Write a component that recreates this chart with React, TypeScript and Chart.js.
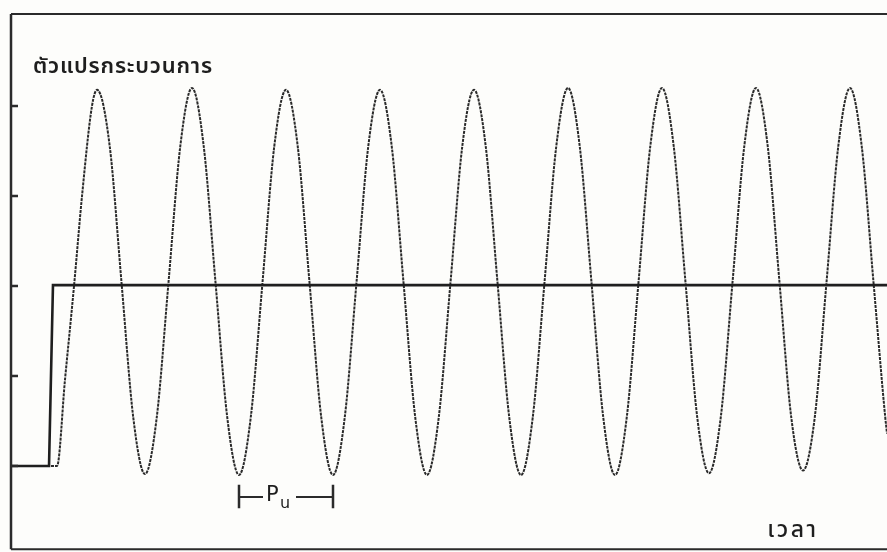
import React, { useEffect, useRef } from "react";
import { Chart, registerables } from "chart.js";

Chart.register(...registerables);

// Setpoint (step) — time vs. level
const stepTimes = [0.745, 4.79, 5.21, 93.94];
const stepValues = [0, 0, 2.01, 2.01];

// Process variable (sustained oscillation at ultimate gain)
const waveTimes = [
  0.745, 5.64, 6.49, 7.45, 8.3, 9.36, 9.9,
  11.25, 12.5, 13.75, 15, 16.25, 17.5, 18.75, 20,
  21.25, 22.5, 23.75, 25, 26.25, 27.5, 28.75, 30,
  31.25, 32.5, 33.75, 35, 36.25, 37.5, 38.75, 40,
  41.25, 42.5, 43.75, 45, 46.25, 47.5, 48.75, 50,
  51.25, 52.5, 53.75, 55, 56.25, 57.5, 58.75, 60,
  61.25, 62.5, 63.75, 65, 66.25, 67.5, 68.75, 70,
  71.25, 72.5, 73.75, 75, 76.25, 77.5, 78.75, 80,
  81.25, 82.5, 83.75, 85, 86.25, 87.5, 88.75, 90,
  91.25, 92.5, 93.75, 93.94,
];
const waveValues = [
  0, 0, 0.96, 2.0, 3.0, 4.0, 4.18,
  3.55, 2.04, 0.54, -0.09, 0.54, 2.04, 3.55, 4.2,
  3.55, 2.04, 0.54, -0.1, 0.54, 2.04, 3.55, 4.18,
  3.55, 2.04, 0.54, -0.1, 0.54, 2.04, 3.55, 4.18,
  3.55, 2.04, 0.54, -0.1, 0.54, 2.04, 3.55, 4.18,
  3.55, 2.04, 0.54, -0.1, 0.54, 2.04, 3.55, 4.2,
  3.55, 2.04, 0.54, -0.1, 0.54, 2.04, 3.55, 4.2,
  3.55, 2.04, 0.54, -0.08, 0.54, 2.04, 3.55, 4.2,
  3.55, 2.04, 0.54, -0.05, 0.54, 2.04, 3.55, 4.2,
  3.55, 2.04, 0.54, 0.36,
];

// Axis tick levels on the left edge
const yTickLevels = [0, 1, 2, 3, 4];

const yAxisTitle = "ตัวแปรกระบวนการ";
const xAxisTitle = "เวลา";
const periodLabel = "P";
const periodSub = "u";
// Two successive troughs bracketing the ultimate period
const periodStart = 25;
const periodEnd = 35;

const THAI_FONT = '"Noto Sans Thai", "Noto Sans Thai Looped", Loma, Garuda, "Noto Sans", "DejaVu Sans", sans-serif';

const annotations = {
  id: "annotations",
  afterDatasetsDraw(chart: any) {
    const ctx = chart.ctx;
    const xs = chart.scales.x;
    const ys = chart.scales.y;
    const px = (v: number) => xs.getPixelForValue(v);
    const py = (v: number) => ys.getPixelForValue(v);
    ctx.save();
    ctx.strokeStyle = "#2b2b2b";
    ctx.lineCap = "butt";

    // frame: left axis, top and bottom border
    const left = px(0.745);
    const top = py(5.022);
    const bottom = py(-0.925);
    ctx.lineWidth = 2.5;
    ctx.beginPath();
    ctx.moveTo(left, top);
    ctx.lineTo(left, bottom);
    ctx.stroke();
    ctx.lineWidth = 2;
    ctx.beginPath();
    ctx.moveTo(left, top);
    ctx.lineTo(chart.width, top);
    ctx.moveTo(left, bottom);
    ctx.lineTo(chart.width, bottom);
    ctx.stroke();

    // inward tick marks
    ctx.lineWidth = 2.5;
    yTickLevels.forEach((lv) => {
      const y = py(lv);
      ctx.beginPath();
      ctx.moveTo(left, y);
      ctx.lineTo(left + 7, y);
      ctx.stroke();
    });

    // labels
    ctx.fillStyle = "#1e1e1e";
    ctx.textAlign = "left";
    ctx.textBaseline = "alphabetic";
    ctx.font = `600 22px ${THAI_FONT}`;
    try { ctx.letterSpacing = "0.8px"; } catch (e) {}
    ctx.fillText(yAxisTitle, left + 22, py(4.37));
    ctx.font = `500 23px ${THAI_FONT}`;
    try { ctx.letterSpacing = "2.5px"; } catch (e) {}
    ctx.fillText(xAxisTitle, px(81.2), py(-0.79));
    try { ctx.letterSpacing = "0px"; } catch (e) {}

    // P_u bracket
    const x1 = px(periodStart);
    const x2 = px(periodEnd);
    const yMid = py(-0.345);
    const yTop = py(-0.21);
    const yBot = py(-0.47);
    ctx.lineWidth = 2.5;
    ctx.beginPath();
    ctx.moveTo(x1, yTop);
    ctx.lineTo(x1, yBot);
    ctx.moveTo(x2, yTop);
    ctx.lineTo(x2, yBot);
    ctx.stroke();
    ctx.lineWidth = 2;
    ctx.beginPath();
    ctx.moveTo(x1, yMid);
    ctx.lineTo(x1 + 24, yMid);
    ctx.moveTo(x2 - 37, yMid);
    ctx.lineTo(x2, yMid);
    ctx.stroke();
    ctx.font = `21px "DejaVu Sans", sans-serif`;
    ctx.textBaseline = "middle";
    ctx.fillText(periodLabel, x1 + 27, yMid - 1);
    ctx.font = `16px "DejaVu Sans", sans-serif`;
    ctx.fillText(periodSub, x1 + 41, yMid + 7);
    ctx.restore();
  },
};

export default function App() {
  const ref = useRef<HTMLCanvasElement | null>(null);
  useEffect(() => {
    document.body.style.margin = "0";
    document.body.style.background = "#fdfdfb";
    const canvas = ref.current;
    if (!canvas) return;
    const chart = new Chart(canvas, {
      type: "line",
      data: {
        datasets: [
          {
            label: "setpoint",
            data: stepTimes.map((t, i) => ({ x: t, y: stepValues[i] })),
            borderColor: "#1f1f1f",
            borderWidth: 2.6,
            pointRadius: 0,
            tension: 0,
          },
          {
            label: "process variable",
            data: waveTimes.map((t, i) => ({ x: t, y: waveValues[i] })),
            borderColor: "#2a2a2a",
            borderWidth: 2,
            borderDash: [3, 1],
            pointRadius: 0,
            cubicInterpolationMode: "monotone",
          },
        ],
      },
      options: {
        animation: false,
        responsive: false,
        devicePixelRatio: 1,
        layout: { padding: 0 },
        plugins: { legend: { display: false }, tooltip: { enabled: false } },
        scales: {
          x: { type: "linear", min: -0.4255, max: 93.936, display: false },
          y: { type: "linear", min: -0.956, max: 5.178, display: false },
        },
      },
      plugins: [annotations],
    });
    return () => chart.destroy();
  }, []);
  return (
    <div style={{ position: "fixed", left: 0, top: 0, width: 887, height: 552, background: "#fdfdfb" }}>
      <canvas ref={ref} width={887} height={552} />
    </div>
  );
}
